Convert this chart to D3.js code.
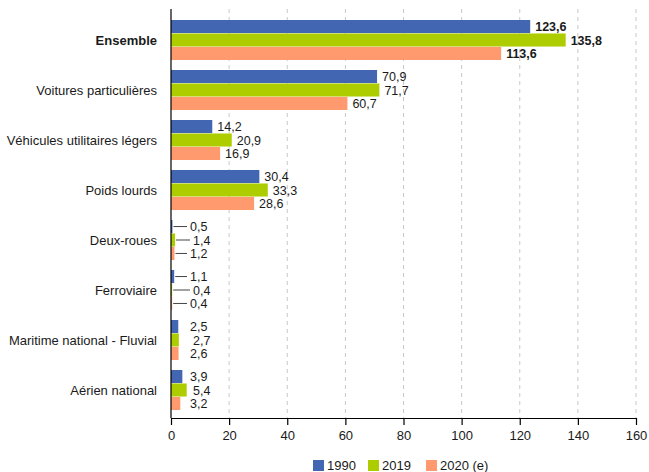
<!DOCTYPE html>
<html>
<head>
<meta charset="utf-8">
<script src="https://cdn.jsdelivr.net/npm/d3@7"></script>
<style>
  html, body { margin: 0; padding: 0; background: #fff; }
  svg { display: block; font-family: "Liberation Sans", Arial, Helvetica, sans-serif; }
</style>
</head>
<body>
<svg id="chart" width="649" height="472"></svg>
<script>
// Émissions de GES des transports, par mode (Mt CO2e)
const categories = [
  "Ensemble",
  "Voitures particulières",
  "Véhicules utilitaires légers",
  "Poids lourds",
  "Deux-roues",
  "Ferroviaire",
  "Maritime national - Fluvial",
  "Aérien national"
];
const seriesNames = ["1990", "2019", "2020 (e)"];
const values1990 = [123.6, 70.9, 14.2, 30.4, 0.5, 1.1, 2.5, 3.9];
const values2019 = [135.8, 71.7, 20.9, 33.3, 1.4, 0.4, 2.7, 5.4];
const values2020 = [113.6, 60.7, 16.9, 28.6, 1.2, 0.4, 2.6, 3.2];
const xTicks = [0, 20, 40, 60, 80, 100, 120, 140, 160];
const colors = ["#4266B2", "#AECD00", "#FF9A6E"];

const series = [values1990, values2019, values2020];
const svg = d3.select("#chart");
const FS = 13;
const VFS = 12.5;

const plot = { left: 171, right: 636, top: 9, bottom: 418 };

const x = d3.scaleLinear().domain([0, 160]).range([plot.left, plot.right]);
const y = d3.scaleBand().domain(categories).range([15, 415])
  .paddingInner(0.2).paddingOuter(0.1);
const ySub = d3.scaleBand().domain(seriesNames).range([0, y.bandwidth()]).paddingInner(0.03);

const fmt = v => d3.format(".1f")(v).replace(".", ",");

// vertical dashed gridlines
svg.append("g").selectAll("line")
  .data(xTicks.filter(t => t > 0))
  .join("line")
  .attr("x1", d => x(d)).attr("x2", d => x(d))
  .attr("y1", plot.top).attr("y2", plot.bottom)
  .attr("stroke", "#c8c8c8")
  .attr("stroke-width", 1)
  .attr("stroke-dasharray", "4,4");

// bars and value labels; short bars get their label pushed out with a leader line
const groups = svg.append("g").selectAll("g")
  .data(categories)
  .join("g")
  .attr("transform", d => `translate(0,${y(d)})`);

groups.each(function (cat, ci) {
  const g = d3.select(this);
  seriesNames.forEach((s, si) => {
    const v = series[si][ci];
    const by = ySub(s);
    const bh = ySub.bandwidth();
    g.append("rect")
      .attr("x", x(0))
      .attr("y", by)
      .attr("width", x(v) - x(0))
      .attr("height", bh)
      .attr("fill", colors[si]);

    const barEnd = x(v);
    const minX = si === 1 ? 193 : 190;
    const lx = Math.max(barEnd + 5, minX);
    if (v < 2) {
      g.append("line")
        .attr("x1", barEnd + 1).attr("x2", lx - 3)
        .attr("y1", by + bh / 2).attr("y2", by + bh / 2)
        .attr("stroke", "#444").attr("stroke-width", 1);
    }
    g.append("text")
      .attr("x", lx)
      .attr("y", by + bh / 2)
      .attr("dy", "0.36em")
      .attr("font-size", VFS)
      .attr("font-weight", ci === 0 ? "bold" : "normal")
      .attr("fill", "#1a1a1a")
      .text(fmt(v));
  });
});

// category labels
svg.append("g").selectAll("text")
  .data(categories)
  .join("text")
  .attr("x", 157)
  .attr("y", d => y(d) + y.bandwidth() / 2)
  .attr("dy", "0.36em")
  .attr("text-anchor", "end")
  .attr("font-size", FS)
  .attr("font-weight", (d, i) => i === 0 ? "bold" : "normal")
  .attr("fill", "#1a1a1a")
  .text(d => d);

// y axis line
svg.append("line")
  .attr("x1", plot.left).attr("x2", plot.left)
  .attr("y1", plot.top).attr("y2", plot.bottom)
  .attr("stroke", "#000").attr("stroke-width", 1.2);

// x axis
const xAxis = svg.append("g")
  .attr("transform", `translate(0,${plot.bottom})`)
  .call(d3.axisBottom(x).tickValues(xTicks).tickSize(7).tickPadding(6).tickSizeOuter(0));
xAxis.select(".domain").attr("stroke", "#000").attr("stroke-width", 1.2);
xAxis.selectAll(".tick line").attr("stroke", "#000").attr("stroke-width", 1.2);
xAxis.selectAll(".tick text")
  .attr("font-size", FS)
  .attr("font-family", "Liberation Sans, Arial, sans-serif")
  .attr("fill", "#1a1a1a");

// legend
const legendX = [313, 368, 426];
const legend = svg.append("g").selectAll("g")
  .data(seriesNames)
  .join("g")
  .attr("transform", (d, i) => `translate(${legendX[i]},460)`);
legend.append("rect")
  .attr("width", 11).attr("height", 11)
  .attr("fill", (d, i) => colors[i]);
legend.append("text")
  .attr("x", 14).attr("y", 5.5).attr("dy", "0.36em")
  .attr("font-size", FS)
  .attr("fill", "#1a1a1a")
  .text(d => d);
</script>
</body>
</html>
